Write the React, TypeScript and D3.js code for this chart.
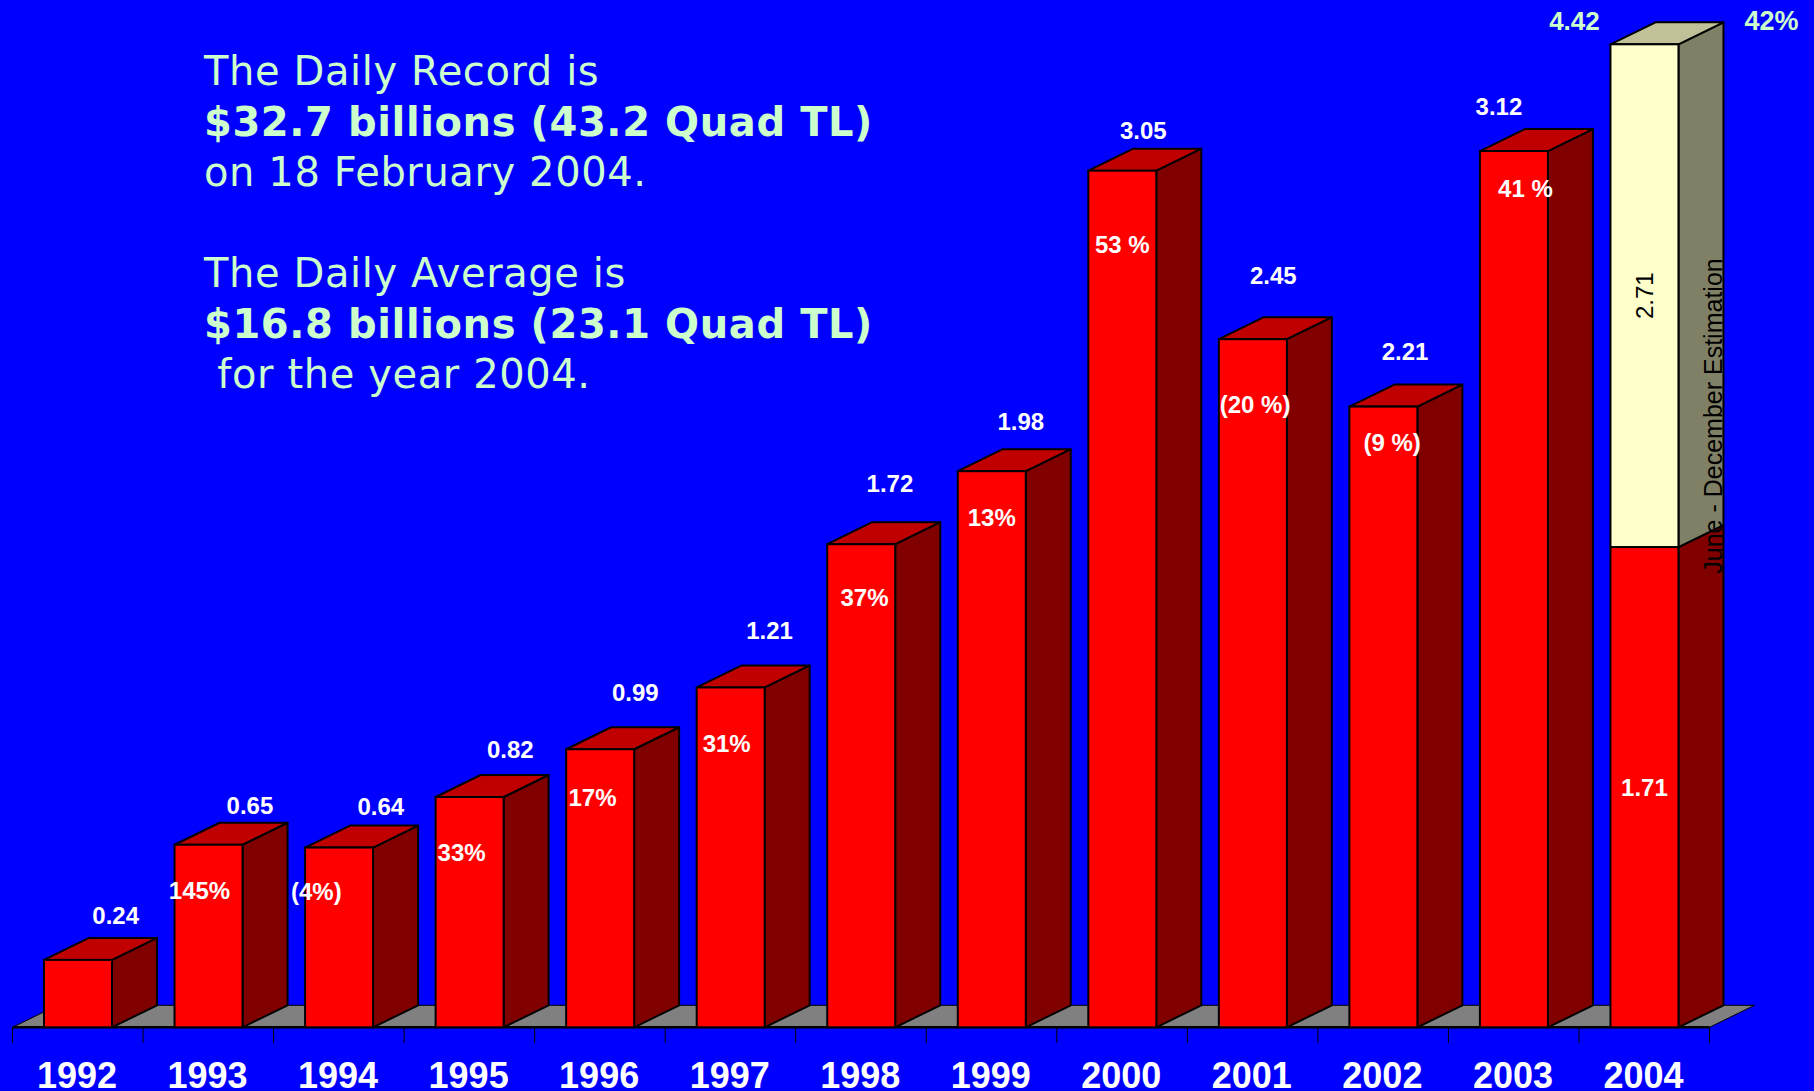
import React, { useEffect } from "react";
import * as d3 from "d3";

// ---- data ----
const years = ["1992", "1993", "1994", "1995", "1996", "1997", "1998", "1999", "2000", "2001", "2002", "2003", "2004"];
const actualValues = [0.24, 0.65, 0.64, 0.82, 0.99, 1.21, 1.72, 1.98, 3.05, 2.45, 2.21, 3.12, 1.71];
const estimateValues = [0, 0, 0, 0, 0, 0, 0, 0, 0, 0, 0, 0, 2.71];
const growthLabels = ["", "145%", "(4%)", "33%", "17%", "31%", "37%", "13%", "53 %", "(20 %)", "(9 %)", "41 %", "42%"];
const textLines = [
  { text: "The Daily Record is", bold: false },
  { text: "$32.7 billions (43.2 Quad TL)", bold: true },
  { text: "on 18 February 2004.", bold: false },
  { text: "", bold: false },
  { text: "The Daily Average is", bold: false },
  { text: "$16.8 billions (23.1 Quad TL)", bold: true },
  { text: " for the year 2004.", bold: false },
];
const estimateNote = "June - December Estimation";
const yMax = 3.5;

// ---- layout (label placements) ----
const valueLabelDx = [37.7, 41.4, 41.7, 40.7, 35.2, 38.9, 28.7, 29, 21, 20.5, 21.7, -15, -70];
const valueLabelRise = [36, 31, 32.5, 39, 48, 48.5, 52, 41, 31.4, 55, 46.6, 36, 14];
const growthDx = [0, -9, -22.7, -8, -7.6, -4, 3.3, 0, 0, 2.2, 8.7, 11.5, 127];
const growthDrop = [0, 54, 52.5, 64.5, 56.7, 65, 61.5, 54.6, 82.6, 74, 44.4, 45.7, -14.3];

const W = 1814;
const H = 1091;
const BASE = 1027.3;
const TOP = 44.3;
const DX = 45;
const DY = 22;
const BAR_OFF = 31.5;
const BAR_W = 68;

const RED = "#ff0000";
const RED_TOP = "#c00000";
const RED_SIDE = "#800000";
const Y_FRONT = "#ffffcc";
const Y_TOP = "#c0c099";
const Y_SIDE = "#808066";
const GREEN_TXT = "#ccffcc";

export default function App() {
  useEffect(() => {
    document.body.style.margin = "0";
    document.body.style.overflow = "hidden";
  }, []);

  const x = d3.scaleBand<string>().domain(years).range([12.5, 1709.5]).paddingInner(0).paddingOuter(0);
  const y = d3.scaleLinear().domain([0, yMax]).range([BASE, TOP]).clamp(true);

  const tickXs = years.map((yr) => x(yr) as number).concat([x.range()[1]]);

  const box = (left: number, top: number, bottom: number, front: string, topC: string, side: string, drawTop: boolean, key: string) => {
    const right = left + BAR_W;
    const sidePts = [
      [right, top],
      [right + DX, top - DY],
      [right + DX, bottom - DY],
      [right, bottom],
    ];
    const topPts = [
      [left, top],
      [left + DX, top - DY],
      [right + DX, top - DY],
      [right, top],
    ];
    return (
      <g key={key}>
        <polygon points={sidePts.map((p) => p.join(",")).join(" ")} fill={side} stroke="#000" strokeWidth={2} strokeLinejoin="round" />
        {drawTop && (
          <polygon points={topPts.map((p) => p.join(",")).join(" ")} fill={topC} stroke="#000" strokeWidth={2} strokeLinejoin="round" />
        )}
        <rect x={left} y={top} width={BAR_W} height={bottom - top} fill={front} stroke="#000" strokeWidth={2} />
      </g>
    );
  };

  const floorPts = [
    [x.range()[0], BASE],
    [x.range()[1], BASE],
    [x.range()[1] + DX, BASE - DY],
    [x.range()[0] + DX, BASE - DY],
  ];

  return (
    <svg width={W} height={H} style={{ position: "absolute", left: 0, top: 0, display: "block" }}>
      <rect x={0} y={0} width={W} height={H} fill="#0000ff" />

      {/* text block */}
      <g fontFamily="'DejaVu Sans', Verdana, sans-serif" fontSize={40} fill={GREEN_TXT} letterSpacing={0.6}>
        {textLines.map((l, i) => (
          <text key={i} x={204} y={85 + 50.5 * i} fontWeight={l.bold ? "bold" : "normal"} style={{ whiteSpace: "pre" }}>
            {l.text}
          </text>
        ))}
      </g>

      {/* floor */}
      <polygon points={floorPts.map((p) => p.join(",")).join(" ")} fill="#808080" stroke="#000" strokeWidth={1} />
      <line x1={x.range()[0]} x2={x.range()[1]} y1={BASE} y2={BASE} stroke="#000" strokeWidth={2.5} />
      {tickXs.map((tx, i) => (
        <line key={i} x1={tx} x2={tx} y1={BASE} y2={1043} stroke="#000" strokeWidth={1} />
      ))}

      {/* bars */}
      {years.map((yr, i) => {
        const left = (x(yr) as number) + BAR_OFF;
        const a = actualValues[i];
        const e = estimateValues[i];
        const topA = y(a);
        const parts = [box(left, topA, BASE, RED, RED_TOP, RED_SIDE, e === 0, "a")];
        if (e > 0) {
          const topE = y(a + e);
          parts.push(box(left, topE, topA, Y_FRONT, Y_TOP, Y_SIDE, true, "e"));
        }
        return <g key={yr}>{parts}</g>;
      })}

      {/* labels */}
      <g fontFamily="'Liberation Sans', Arial, sans-serif" fontWeight="bold" textAnchor="middle">
        {years.map((yr, i) => {
          const left = (x(yr) as number) + BAR_OFF;
          const cx = left + BAR_W / 2;
          const a = actualValues[i];
          const e = estimateValues[i];
          const total = a + e;
          const frontTop = y(total);
          const isEst = e > 0;
          const els: any[] = [];
          els.push(
            <text key="v" x={cx + valueLabelDx[i]} y={frontTop - valueLabelRise[i]} fontSize={isEst ? 26 : 24} fill={isEst ? GREEN_TXT : "#fff"}>
              {d3.format(".2f")(total)}
            </text>
          );
          if (growthLabels[i]) {
            els.push(
              <text key="g" x={cx + growthDx[i]} y={frontTop + growthDrop[i]} fontSize={isEst ? 27 : 24} fill={isEst ? GREEN_TXT : "#fff"}>
                {growthLabels[i]}
              </text>
            );
          }
          if (isEst) {
            const midA = (y(a) + BASE) / 2;
            els.push(
              <text key="a" x={cx} y={midA + 8.5} fontSize={24} fill="#fff">
                {d3.format(".2f")(a)}
              </text>
            );
            const midE = (y(total) + y(a)) / 2;
            els.push(
              <text key="e" transform={`translate(${cx + 9},${midE}) rotate(-90)`} fontSize={24} fontWeight="normal" fill="#000">
                {d3.format(".2f")(e)}
              </text>
            );
            els.push(
              <text key="n" transform={`translate(${left + BAR_W + DX - 1},416) rotate(-90)`} fontSize={25} fontWeight="normal" fill="#000">
                {estimateNote}
              </text>
            );
          }
          return <g key={yr}>{els}</g>;
        })}
        {years.map((yr) => (
          <text key={yr} x={(x(yr) as number) + 64.5} y={1088} fontSize={36} fill="#fff">
            {yr}
          </text>
        ))}
      </g>
    </svg>
  );
}
